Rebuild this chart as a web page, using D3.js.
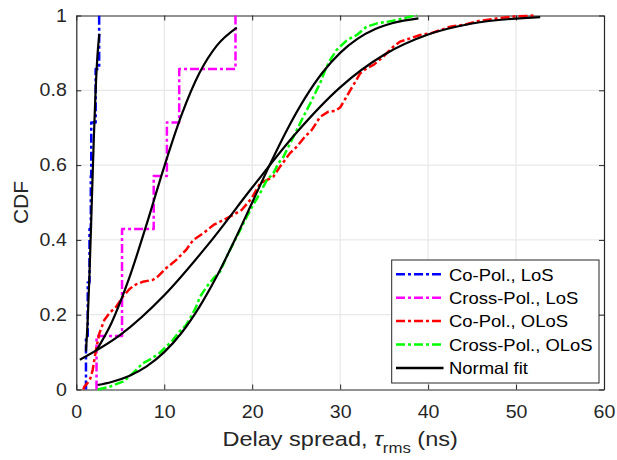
<!DOCTYPE html>
<html>
<head>
<meta charset="utf-8">
<script src="https://cdn.jsdelivr.net/npm/d3@7/dist/d3.min.js"></script>
<style>
  html, body { margin: 0; padding: 0; background: #fff; }
  svg { display: block; font-family: "Liberation Sans", Arial, Helvetica, sans-serif; }
</style>
</head>
<body>
<svg id="chart" width="617" height="460"></svg>
<script>
// ---------- data ----------
const xTicks = [0, 10, 20, 30, 40, 50, 60];
const yTicks = [0, 0.2, 0.4, 0.6, 0.8, 1];
const yTickLabels = ["0", "0.2", "0.4", "0.6", "0.8", "1"];

const legendLabels = ["Co-Pol., LoS", "Cross-Pol., LoS", "Co-Pol., OLoS", "Cross-Pol., OLoS", "Normal fit"];
const seriesColors = ["#0000ff", "#ff00ff", "#ff0000", "#00ff00", "#000000"];

// Co-Pol., LoS (empirical CDF steps)
const blueX = [1.1, 1.1, 1.3, 1.5, 1.65, 1.7, 2.2, 2.6];
const blueF = [0, 0.143, 0.286, 0.429, 0.571, 0.714, 0.857, 1.0];

// Cross-Pol., LoS (empirical CDF steps)
const magentaX = [2.3, 2.3, 5.2, 5.2, 8.8, 10.3, 11.7, 18.1];
const magentaF = [0, 0.143, 0.286, 0.429, 0.571, 0.714, 0.857, 1.0];

// Co-Pol., OLoS (empirical CDF trace)
const redX = [0.8, 0.9, 1.3, 1.6, 1.86, 2.24, 2.62, 3.19, 3.75, 4.52, 5.28, 6.03, 6.6, 7.55, 8.69, 9.26,
  10.2, 11.34, 12.48, 13.3, 14.45, 15.6, 16.7, 17.86, 18.8, 19.9, 20.9, 21.66, 22.4, 23.17, 24.3, 25.07,
  26.0, 26.78, 27.72, 28.67, 29.43, 30.0, 30.6, 31.14, 31.6, 32.27, 33.0, 33.8, 34.9, 36.06, 36.8, 37.96,
  39.1, 40.24, 41.4, 42.5, 44.03, 45.9, 47.8, 49.7, 51.2, 52.0];
const redF = [0, 0.007, 0.018, 0.03, 0.052, 0.106, 0.150, 0.186, 0.204, 0.221, 0.248, 0.268, 0.279, 0.288, 0.293, 0.302,
  0.324, 0.346, 0.373, 0.40, 0.418, 0.44, 0.453, 0.467, 0.48, 0.51, 0.551, 0.56, 0.569, 0.596, 0.632, 0.649,
  0.676, 0.694, 0.729, 0.743, 0.745, 0.754, 0.778, 0.80, 0.818, 0.845, 0.859, 0.868, 0.89, 0.917, 0.93, 0.939,
  0.948, 0.952, 0.961, 0.97, 0.975, 0.986, 0.992, 0.997, 0.999, 1.0];

// Cross-Pol., OLoS (empirical CDF trace)
const greenX = [2.43, 3.75, 5.28, 6.03, 6.79, 7.55, 8.3, 9.44, 10.2, 10.97, 11.72, 12.48, 13.05, 13.6, 14.07,
  14.83, 15.59, 16.35, 17.1, 17.86, 18.62, 19.39, 20.14, 20.9, 21.66, 22.4, 22.98, 23.55, 24.12, 24.7, 25.45,
  26.0, 26.6, 27.16, 27.72, 28.3, 28.86, 29.6, 30.76, 31.9, 33.0, 34.2, 35.3, 36.45, 37.96, 38.7];
const greenF = [0, 0.007, 0.021, 0.034, 0.052, 0.07, 0.079, 0.097, 0.114, 0.132, 0.155, 0.172, 0.195, 0.22, 0.248,
  0.275, 0.297, 0.315, 0.355, 0.391, 0.426, 0.462, 0.495, 0.525, 0.56, 0.578, 0.605, 0.622, 0.649, 0.676, 0.712,
  0.738, 0.765, 0.792, 0.819, 0.854, 0.881, 0.908, 0.934, 0.948, 0.97, 0.979, 0.983, 0.988, 0.997, 1.0];

// Normal fit curves
const blueFitX = [1.1, 1.3, 1.5, 1.76, 2.0, 2.2, 2.4, 2.62];
const blueFitF = [0.102, 0.188, 0.309, 0.5, 0.677, 0.801, 0.891, 0.951];
const magentaFitX = [2.24, 4, 6, 8, 10, 12, 14, 16, 18.25];
const magentaFitF = [0.103, 0.178, 0.297, 0.442, 0.596, 0.736, 0.846, 0.920, 0.9675];
const redFitX = [0.4, 5, 10, 15, 20, 25, 30, 35, 40, 45, 52.75];
const redFitF = [0.0796, 0.146, 0.252, 0.388, 0.540, 0.686, 0.808, 0.895, 0.949, 0.9785, 0.9956];
const greenFitX = [2.43, 4, 6, 8, 10, 12, 14, 16, 18, 20, 22, 24, 26, 28, 30, 32, 34, 36, 38.9];
const greenFitF = [0.0121, 0.0202, 0.0363, 0.062, 0.0999, 0.1525, 0.221, 0.304, 0.399, 0.5, 0.601, 0.696,
  0.779, 0.8475, 0.900, 0.938, 0.9637, 0.9798, 0.9923];

// ---------- layout ----------
const svg = d3.select("#chart");
const pLeft = 76.3, pRight = 604, pTop = 15.5, pBottom = 389.5;
const axisColor = "#262626";
const tickFont = 17.5;
const stretch = 1.12; // horizontal text stretch seen in the reference

const x = d3.scaleLinear().domain([0, 60]).range([pLeft, pRight]);
const y = d3.scaleLinear().domain([0, 1]).range([pBottom, pTop]);

// grid
const grid = svg.append("g");
grid.selectAll("line.gx").data(xTicks.slice(1, -1)).join("line")
  .attr("x1", d => x(d)).attr("x2", d => x(d)).attr("y1", pTop).attr("y2", pBottom)
  .attr("stroke", "#e3e3e3").attr("stroke-width", 1);
grid.selectAll("line.gy").data(yTicks.slice(1, -1)).join("line")
  .attr("x1", pLeft).attr("x2", pRight).attr("y1", d => y(d)).attr("y2", d => y(d))
  .attr("stroke", "#e3e3e3").attr("stroke-width", 1);

// axes
function styleAxis(g) {
  g.select(".domain").attr("stroke", axisColor).attr("stroke-width", 1.2);
  g.selectAll(".tick line").attr("stroke", axisColor).attr("stroke-width", 1);
  g.selectAll(".tick text").attr("fill", axisColor).attr("font-size", tickFont)
    .attr("font-family", "Liberation Sans, Arial, sans-serif");
}
const gx = svg.append("g").attr("transform", `translate(0,${pBottom})`)
  .call(d3.axisBottom(x).tickValues(xTicks).tickFormat(d3.format("d")).tickSize(-5).tickSizeOuter(0).tickPadding(16));
styleAxis(gx);
gx.selectAll(".tick text").attr("transform", `scale(${stretch},1)`);
const gy = svg.append("g").attr("transform", `translate(${pLeft},0)`)
  .call(d3.axisLeft(y).tickValues(yTicks).tickFormat((d, i) => yTickLabels[i]).tickSize(-5).tickSizeOuter(0).tickPadding(9.5));
styleAxis(gy);
gy.selectAll(".tick text").attr("x", -9.5 / stretch).attr("transform", `scale(${stretch},1)`);
const gt = svg.append("g").attr("transform", `translate(0,${pTop})`)
  .call(d3.axisTop(x).tickValues(xTicks).tickFormat("").tickSize(-5).tickSizeOuter(0));
styleAxis(gt);
const gr = svg.append("g").attr("transform", `translate(${pRight},0)`)
  .call(d3.axisRight(y).tickValues(yTicks).tickFormat("").tickSize(-5).tickSizeOuter(0));
styleAxis(gr);

// series
const dashDot = "9,3,3,3";
const stepLine = d3.line().x(d => x(d[0])).y(d => y(d[1])).curve(d3.curveStepAfter);
const polyLine = d3.line().x(d => x(d[0])).y(d => y(d[1]));
const smoothLine = d3.line().x(d => x(d[0])).y(d => y(d[1])).curve(d3.curveMonotoneX);
const zipXY = (xs, fs) => xs.map((v, i) => [v, fs[i]]);

const plot = svg.append("g").attr("fill", "none").attr("stroke-linejoin", "round");
plot.append("path").attr("d", stepLine(zipXY(blueX, blueF)))
  .attr("stroke", seriesColors[0]).attr("stroke-width", 2.5).attr("stroke-dasharray", dashDot);
plot.append("path").attr("d", stepLine(zipXY(magentaX, magentaF)))
  .attr("stroke", seriesColors[1]).attr("stroke-width", 2.5).attr("stroke-dasharray", dashDot);
plot.append("path").attr("d", polyLine(zipXY(redX, redF)))
  .attr("stroke", seriesColors[2]).attr("stroke-width", 2.5).attr("stroke-dasharray", dashDot);
plot.append("path").attr("d", polyLine(zipXY(greenX, greenF)))
  .attr("stroke", seriesColors[3]).attr("stroke-width", 2.5).attr("stroke-dasharray", dashDot);

[[blueFitX, blueFitF], [magentaFitX, magentaFitF], [redFitX, redFitF], [greenFitX, greenFitF]].forEach(([xs, fs]) => {
  plot.append("path").attr("d", smoothLine(zipXY(xs, fs)))
    .attr("stroke", seriesColors[4]).attr("stroke-width", 2.2);
});

// legend
const lg = svg.append("g");
const lgX = 391.7, lgY = 260, lgW = 207.3, lgH = 123;
lg.append("rect").attr("x", lgX).attr("y", lgY).attr("width", lgW).attr("height", lgH)
  .attr("fill", "#fff").attr("stroke", axisColor).attr("stroke-width", 1);
legendLabels.forEach((lab, i) => {
  const cy = 274.3 + i * 23.4;
  lg.append("line").attr("x1", 396).attr("x2", 443.5).attr("y1", cy).attr("y2", cy)
    .attr("stroke", seriesColors[i]).attr("stroke-width", 2.5)
    .attr("stroke-dasharray", i < 4 ? dashDot : null);
  lg.append("text").attr("transform", `translate(449,${cy + 6.2}) scale(${stretch},1)`)
    .attr("font-size", 16.5).attr("fill", "#000").text(lab);
});

// axis labels
const xl = svg.append("text")
  .attr("transform", `translate(${(pLeft + pRight) / 2},446) scale(${stretch},1)`)
  .attr("text-anchor", "middle").attr("font-size", 21).attr("fill", axisColor);
xl.append("tspan").text("Delay spread, ");
xl.append("tspan").attr("font-style", "italic").text("τ");
xl.append("tspan").attr("font-size", 15).attr("dy", 7).text("rms");
xl.append("tspan").attr("dy", -7).text(" (ns)");

svg.append("text").attr("transform", `translate(27.5,${(pTop + pBottom) / 2}) rotate(-90)`)
  .attr("text-anchor", "middle").attr("font-size", 21).attr("fill", axisColor).text("CDF");
</script>
</body>
</html>
